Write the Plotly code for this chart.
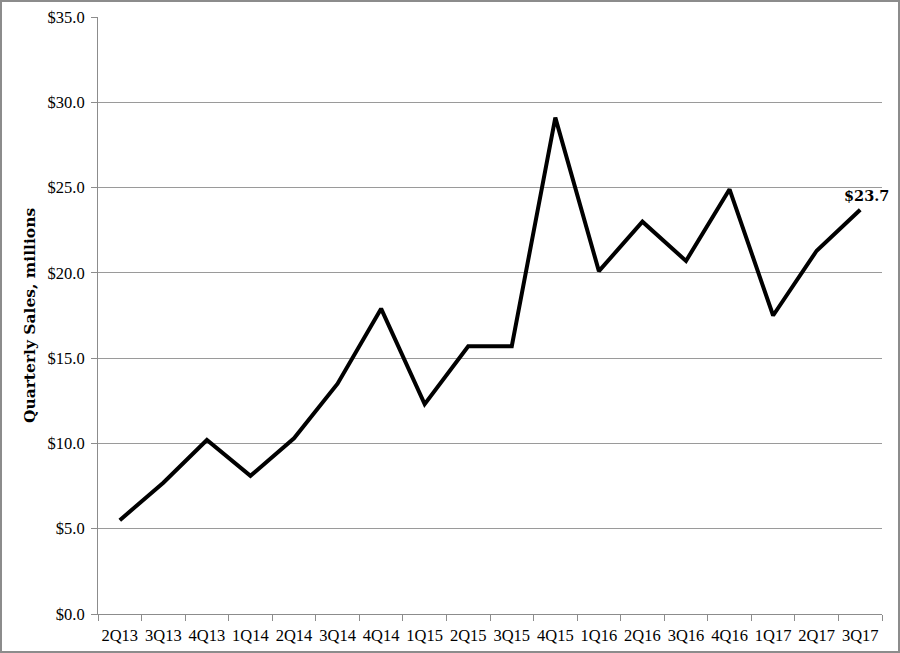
import plotly.graph_objects as go

quarters = ["2Q13", "3Q13", "4Q13", "1Q14", "2Q14", "3Q14", "4Q14", "1Q15", "2Q15",
            "3Q15", "4Q15", "1Q16", "2Q16", "3Q16", "4Q16", "1Q17", "2Q17", "3Q17"]
sales = [5.5, 7.7, 10.2, 8.1, 10.3, 13.5, 17.9, 12.3, 15.7,
         15.7, 29.1, 20.1, 23.0, 20.7, 24.9, 17.5, 21.3, 23.7]
y_ticks = [0, 5, 10, 15, 20, 25, 30, 35]
y_tick_labels = ["$%.1f" % v for v in y_ticks]
y_title = "Quarterly Sales, millions"

FONT = "Liberation Serif"
BOLD_FONT = "DejaVu Serif"
W, H = 900, 653
ML, MR, MT, MB = 98, 18, 17, 39
PW, PH = W - ML - MR, H - MT - MB

fig = go.Figure()
fig.add_trace(go.Scatter(
    x=quarters, y=sales, mode="lines",
    line=dict(color="black", width=4),
    hoverinfo="skip", showlegend=False,
))

fig.add_annotation(
    x=quarters[-1], y=sales[-1], text="<b>$%.1f</b>" % sales[-1],
    showarrow=False, xshift=6, yshift=14,
    font=dict(family=BOLD_FONT, size=14.5, color="black"),
)

# outer border of the picture
fig.add_shape(
    type="rect", xref="paper", yref="paper",
    x0=-(ML - 1) / PW, x1=1 + (MR - 1) / PW,
    y0=-(MB - 1) / PH, y1=1 + (MT - 1) / PH,
    line=dict(color="#8c8c8c", width=2), layer="above",
)

fig.update_layout(
    width=W, height=H,
    margin=dict(l=ML, r=MR, t=MT, b=MB, autoexpand=False),
    paper_bgcolor="white", plot_bgcolor="white",
    font=dict(family=FONT, size=16, color="black"),
    xaxis=dict(
        type="category", range=[-0.5, len(quarters) - 0.5],
        showgrid=False, showline=True, linecolor="#8c8c8c", linewidth=1,
        ticks="outside", tickson="boundaries", ticklen=6, tickcolor="#8c8c8c",
        tickfont=dict(family=FONT, size=16.5), tickangle=0, zeroline=False,
        ticklabelstandoff=6, automargin=False,
    ),
    yaxis=dict(
        range=[0, 35], tickvals=y_ticks, ticktext=y_tick_labels,
        showgrid=True, gridcolor="#9a9a9a", gridwidth=1,
        showline=True, linecolor="#8c8c8c", linewidth=1,
        ticks="outside", ticklen=6, tickcolor="#8c8c8c",
        tickfont=dict(family=FONT, size=16.5), zeroline=False, automargin=False,
        ticklabelstandoff=3,
        title=dict(text="<b>" + y_title + "</b>", font=dict(family=BOLD_FONT, size=15.5), standoff=8),
    ),
)

fig.write_html("out.html", config={"displayModeBar": False},
               post_script="document.body.style.margin='0';")
